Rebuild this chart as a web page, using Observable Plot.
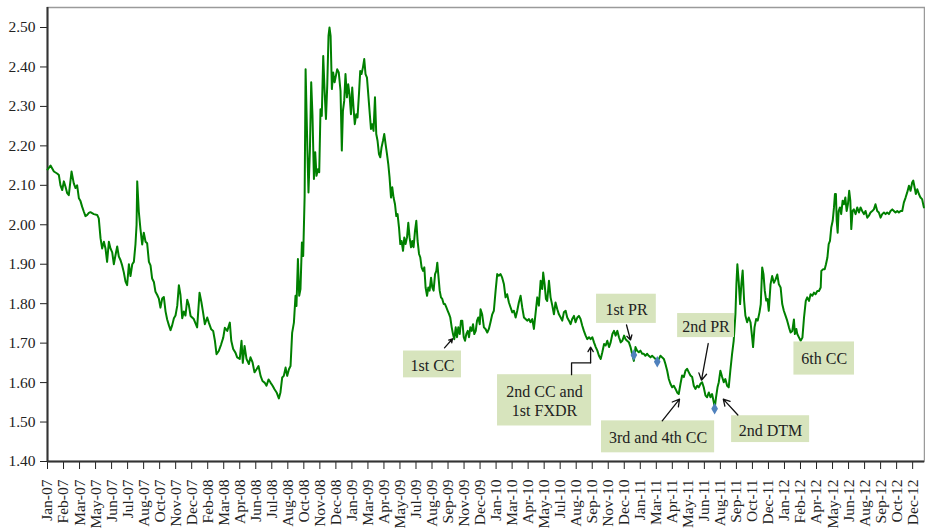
<!DOCTYPE html>
<html><head><meta charset="utf-8">
<script src="https://cdn.jsdelivr.net/npm/d3@7"></script>
<script src="https://cdn.jsdelivr.net/npm/@observablehq/plot@0.6"></script>
<style>body{margin:0;background:#fff}#chart svg{display:block}</style>
</head><body><div id="chart"></div>
<script>
// Category-axis tick labels (evenly spaced, one every ~28 trading days)
const tickLabels = ["Jan-07","Feb-07","Mar-07","May-07","Jun-07","Jul-07","Aug-07","Oct-07","Nov-07","Dec-07",
  "Feb-08","Mar-08","Apr-08","Jun-08","Jul-08","Aug-08","Oct-08","Nov-08","Dec-08",
  "Jan-09","Mar-09","Apr-09","May-09","Jul-09","Aug-09","Sep-09","Nov-09","Dec-09",
  "Jan-10","Mar-10","Apr-10","May-10","Jul-10","Aug-10","Sep-10","Nov-10","Dec-10",
  "Jan-11","Mar-11","Apr-11","May-11","Jun-11","Aug-11","Sep-11","Oct-11","Dec-11",
  "Jan-12","Feb-12","Apr-12","May-12","Jun-12","Aug-12","Sep-12","Oct-12","Dec-12"];
const yTickValues = [1.40,1.50,1.60,1.70,1.80,1.90,2.00,2.10,2.20,2.30,2.40,2.50];

// Observation position (in tick intervals from Jan-07) and value
const period = [
0.00,0.19,0.40,0.60,0.71,0.81,0.92,1.02,1.12,1.23,1.33,1.50,1.64,1.75,1.85,1.96,2.06,2.16,2.27,2.37,2.48,2.58,2.68,2.89,3.10,3.20,3.31,3.41,3.52,3.62,3.72,3.83,3.93,4.04,4.14,4.24,4.35,4.45,4.56,4.66,4.76,4.87,4.97,5.08,5.18,5.29,5.39,5.49,5.56,5.60,5.70,5.80,5.91,6.01,6.12,6.22,6.33,6.43,6.53,6.64,6.74,6.85,6.95,7.05,7.16,7.26,7.37,7.47,7.58,7.68,7.78,7.89,7.99,8.10,8.20,8.30,8.41,8.51,8.61,8.72,8.82,
8.93,9.13,9.34,9.49,9.61,9.71,9.82,9.97,10.07,10.22,10.34,10.45,10.55,10.69,10.84,10.97,11.07,11.22,11.38,11.47,11.59,11.73,11.84,12.00,12.11,12.19,12.30,12.42,12.57,12.67,12.80,12.92,13.05,13.17,13.30,13.42,13.55,13.67,13.80,13.92,14.05,14.17,14.30,14.44,14.54,14.65,14.75,14.86,14.96,15.07,15.17,15.27,15.38,15.48,15.54,15.63,15.71,15.79,15.88,15.96,16.05,16.11,16.17,16.23,16.29,16.38,16.46,16.54,16.63,16.71,16.79,16.88,16.96,17.04,17.12,17.21,17.29,17.38,17.46,17.54,17.60,17.67,17.75,17.83,17.92,
18.08,18.18,18.29,18.37,18.44,18.52,18.60,18.69,18.77,18.85,18.94,19.02,19.10,19.18,19.27,19.35,19.44,19.52,19.60,19.69,19.77,19.85,19.94,20.02,20.10,20.19,20.27,20.35,20.44,20.52,20.60,20.69,20.77,20.85,20.94,21.02,21.10,21.19,21.27,21.35,21.44,21.52,21.60,21.69,21.77,21.85,21.94,22.02,22.10,22.19,22.27,22.35,22.44,22.52,22.60,22.69,22.77,22.85,22.94,23.02,23.10,23.19,23.27,23.35,23.44,23.52,23.60,23.69,23.77,23.85,23.94,24.02,24.10,24.19,24.27,24.33,24.39,24.48,24.56,24.64,24.73,24.81,24.89,24.98,25.06,25.14,25.23,25.31,25.39,25.48,25.56,25.64,25.73,25.81,25.89,25.98,26.06,26.14,26.23,26.31,26.39,26.48,26.56,26.64,26.73,26.81,26.89,26.98,
27.03,27.13,27.24,27.34,27.45,27.55,27.65,27.76,27.86,27.97,28.07,28.17,28.28,28.38,28.49,28.59,28.69,28.80,28.90,29.01,29.11,29.22,29.32,29.42,29.53,29.63,29.74,29.84,29.94,30.05,30.15,30.26,30.36,30.47,30.57,30.67,30.78,30.88,30.94,31.03,31.11,31.19,31.30,31.40,31.51,31.61,31.71,31.82,31.92,32.03,32.13,32.23,32.34,32.44,32.55,32.65,32.75,32.86,32.96,33.07,33.17,33.27,33.38,33.48,33.59,33.69,33.80,33.90,34.01,34.11,34.22,34.32,34.42,34.53,34.63,34.74,34.84,34.94,35.05,35.15,35.26,35.36,35.46,35.57,35.67,35.78,35.88,35.99,
36.08,36.18,36.29,36.39,36.49,36.60,36.70,36.80,36.91,37.01,37.12,37.22,37.32,37.43,37.53,37.64,37.74,37.84,37.95,38.05,38.16,38.26,38.36,38.47,38.57,38.68,38.78,38.88,38.99,39.09,39.20,39.30,39.40,39.51,39.61,39.72,39.82,39.92,40.03,40.13,40.24,40.34,40.44,40.55,40.65,40.76,40.86,40.96,41.07,41.17,41.28,41.38,41.48,41.59,41.65,41.73,41.82,41.90,42.00,42.11,42.21,42.31,42.42,42.52,42.62,42.73,42.83,42.94,43.00,43.06,43.14,43.23,43.31,43.39,43.48,43.56,43.67,43.77,43.88,43.98,44.04,44.13,44.23,44.33,44.44,44.52,44.61,44.69,44.77,44.86,44.94,45.02,
45.13,45.23,45.34,45.44,45.55,45.65,45.76,45.86,45.96,46.07,46.17,46.28,46.38,46.49,46.59,46.65,46.74,46.80,46.91,47.01,47.12,47.22,47.33,47.42,47.53,47.63,47.74,47.84,47.94,48.05,48.15,48.26,48.30,48.40,48.51,48.59,48.68,48.76,48.84,48.92,49.01,49.09,49.15,49.21,49.26,49.32,49.38,49.46,49.54,49.63,49.71,49.80,49.88,49.96,50.04,50.11,50.17,50.25,50.33,50.44,50.54,50.65,50.75,50.85,50.96,51.06,51.17,51.27,51.37,51.48,51.58,51.68,51.79,51.89,52.00,52.10,52.21,52.31,52.41,52.52,52.62,52.73,52.83,52.93,53.04,53.14,53.25,53.35,53.45,53.56,53.66,53.77,53.87,53.97,54.04,54.12,54.20,54.29,54.39,54.49,54.59,54.70];
const rate = [
2.14,2.15,2.135,2.13,2.126,2.10,2.088,2.11,2.097,2.08,2.075,2.135,2.105,2.093,2.10,2.067,2.06,2.046,2.033,2.022,2.025,2.03,2.032,2.027,2.025,2.016,1.966,1.94,1.957,1.94,1.906,1.957,1.94,1.93,1.90,1.922,1.945,1.92,1.91,1.897,1.88,1.856,1.847,1.90,1.87,1.90,1.906,1.95,2.00,2.11,2.033,1.99,1.95,1.98,1.957,1.953,1.906,1.897,1.864,1.855,1.83,1.822,1.813,1.79,1.813,1.817,1.78,1.76,1.745,1.733,1.745,1.763,1.77,1.795,1.847,1.822,1.763,1.78,1.77,1.81,1.797,
1.769,1.761,1.74,1.828,1.803,1.778,1.748,1.765,1.752,1.735,1.731,1.706,1.672,1.68,1.697,1.714,1.739,1.731,1.752,1.706,1.685,1.676,1.664,1.66,1.706,1.65,1.693,1.66,1.647,1.664,1.651,1.626,1.634,1.642,1.617,1.604,1.60,1.592,1.608,1.60,1.592,1.583,1.575,1.56,1.575,1.613,1.617,1.638,1.617,1.634,1.642,1.726,1.752,1.82,1.794,1.913,1.82,1.837,1.955,1.921,2.073,2.394,2.284,2.175,2.082,2.192,2.361,2.276,2.116,2.184,2.124,2.141,2.133,2.293,2.276,2.428,2.344,2.268,2.352,2.479,2.50,2.479,2.344,2.386,2.361,
2.394,2.386,2.339,2.188,2.289,2.314,2.382,2.323,2.356,2.331,2.28,2.348,2.297,2.255,2.28,2.272,2.331,2.39,2.382,2.399,2.42,2.382,2.373,2.331,2.289,2.243,2.255,2.238,2.323,2.23,2.213,2.179,2.171,2.196,2.213,2.23,2.205,2.179,2.154,2.12,2.069,2.095,2.069,2.052,2.022,2.027,1.993,1.951,1.959,1.934,1.968,1.951,1.968,2.005,1.968,1.943,1.959,1.943,1.985,2.01,1.959,1.926,1.917,1.892,1.883,1.892,1.841,1.82,1.841,1.833,1.866,1.841,1.833,1.875,1.883,1.904,1.875,1.833,1.816,1.812,1.799,1.799,1.791,1.782,1.774,1.765,1.74,1.723,1.71,1.74,1.715,1.74,1.723,1.757,1.757,1.715,1.706,1.723,1.731,1.715,1.74,1.731,1.748,1.723,1.731,1.757,1.765,1.748,
1.786,1.773,1.74,1.736,1.727,1.736,1.753,1.773,1.782,1.833,1.875,1.871,1.875,1.866,1.849,1.816,1.824,1.803,1.791,1.778,1.782,1.765,1.782,1.803,1.82,1.791,1.765,1.761,1.757,1.761,1.753,1.761,1.736,1.778,1.816,1.795,1.858,1.837,1.879,1.849,1.812,1.807,1.858,1.816,1.795,1.773,1.803,1.786,1.773,1.765,1.757,1.778,1.782,1.765,1.757,1.748,1.761,1.769,1.753,1.765,1.769,1.761,1.744,1.731,1.719,1.71,1.715,1.71,1.715,1.702,1.69,1.681,1.668,1.66,1.677,1.698,1.694,1.706,1.69,1.702,1.723,1.731,1.719,1.731,1.715,1.702,1.706,1.719,
1.710,1.706,1.702,1.69,1.673,1.655,1.69,1.681,1.677,1.681,1.673,1.673,1.668,1.673,1.668,1.664,1.668,1.664,1.66,1.652,1.66,1.668,1.664,1.66,1.647,1.63,1.609,1.597,1.588,1.592,1.584,1.575,1.571,1.597,1.618,1.614,1.63,1.635,1.626,1.618,1.614,1.592,1.584,1.592,1.588,1.597,1.601,1.588,1.567,1.563,1.575,1.563,1.571,1.55,1.537,1.563,1.588,1.601,1.63,1.614,1.601,1.609,1.592,1.588,1.63,1.673,1.706,1.774,1.85,1.90,1.858,1.799,1.85,1.884,1.808,1.77,1.753,1.765,1.753,1.715,1.69,1.74,1.761,1.757,1.778,1.799,1.892,1.875,1.833,1.808,1.812,1.782,
1.849,1.87,1.853,1.861,1.874,1.849,1.841,1.799,1.782,1.769,1.757,1.74,1.727,1.731,1.76,1.723,1.736,1.723,1.714,1.706,1.714,1.765,1.807,1.816,1.807,1.824,1.82,1.828,1.824,1.832,1.832,1.841,1.883,1.887,1.887,1.9,1.917,1.951,1.959,1.993,2.01,2.044,2.078,2.078,2.01,1.98,2.035,2.044,2.027,2.061,2.052,2.069,2.035,2.052,2.086,2.061,1.989,2.035,2.039,2.027,2.044,2.031,2.044,2.035,2.027,2.035,2.018,2.023,2.031,2.035,2.039,2.052,2.035,2.031,2.018,2.027,2.031,2.027,2.031,2.027,2.035,2.039,2.035,2.031,2.035,2.031,2.035,2.035,2.056,2.069,2.082,2.099,2.086,2.107,2.112,2.095,2.078,2.09,2.078,2.069,2.065,2.044];

// Highlighted event points (blue diamonds)
const markerPeriod = [36.60, 38.06, 41.64];
const markerRate = [1.670, 1.653, 1.534];

// Annotation labels (text centre, box extent and arrow, in data coordinates)
const annotations = [
  {label: "1st CC", x: 24.03, y: 1.646, x1: 22.22, x2: 25.84, y1: 1.612, y2: 1.680, ax1: 24.78, ay1: 1.688, ax2: 25.28, ay2: 1.711},
  {label: "2nd CC and\n1st FXDR", x: 31.02, y: 1.555, x1: 28.09, x2: 33.96, y1: 1.490, y2: 1.620, ax1: 33.90, ay1: 1.650, ax2: 33.90, ay2: 1.690},
  {label: "1st PR", x: 36.14, y: 1.787, x1: 34.27, x2: 38.00, y1: 1.750, y2: 1.824, ax1: 36.14, ay1: 1.746, ax2: 36.39, ay2: 1.708},
  {label: "2nd PR", x: 41.10, y: 1.745, x1: 39.33, x2: 42.88, y1: 1.714, y2: 1.775, ax1: 41.24, ay1: 1.699, ax2: 40.82, ay2: 1.606},
  {label: "3rd and 4th CC", x: 38.11, y: 1.462, x1: 34.58, x2: 41.64, y1: 1.422, y2: 1.503, ax1: 38.37, ay1: 1.503, ax2: 39.45, ay2: 1.558},
  {label: "2nd DTM", x: 45.13, y: 1.481, x1: 42.70, x2: 47.57, y1: 1.448, y2: 1.516, ax1: 43.09, ay1: 1.518, ax2: 42.18, ay2: 1.558},
  {label: "6th CC", x: 48.48, y: 1.663, x1: 46.59, x2: 50.37, y1: 1.619, y2: 1.703}
];
// Elbow connector for "2nd CC and 1st FXDR"
const connector = [{x: 32.71, y: 1.620}, {x: 32.71, y: 1.650}, {x: 33.90, y: 1.650}];

const series = period.map((p, i) => ({p, r: rate[i]}));
const markers = markerPeriod.map((p, i) => ({p, r: markerRate[i]}));
const arrows = annotations.filter(d => d.ax1 != null);

const chart = Plot.plot({
  width: 925, height: 528,
  marginLeft: 47, marginRight: 1, marginTop: 7, marginBottom: 67,
  style: {fontFamily: "'Liberation Serif', 'DejaVu Serif', serif", fontSize: "14px", color: "#222", background: "#fff"},
  x: {domain: [0, 54.74]},
  y: {domain: [1.40, 2.5507]},
  marks: [
    Plot.frame({stroke: "#9a9a9a", strokeWidth: 1.5}),
    Plot.axisY({ticks: yTickValues, tickFormat: d => d.toFixed(2), tickSize: 7, tickPadding: 5, label: null, fontSize: 15.5}),
    Plot.axisX({ticks: tickLabels.map((_, i) => i), tickFormat: i => tickLabels[i], tickRotate: -90, tickSize: 8, tickPadding: 10, label: null, fontSize: 15.5}),
    Plot.ruleX([0], {stroke: "#333", strokeWidth: 2}),
    Plot.ruleY([1.40], {stroke: "#333", strokeWidth: 2}),
    Plot.line(series, {x: "p", y: "r", stroke: "#008000", strokeWidth: 2}),
    Plot.dot(markers, {x: "p", y: "r", symbol: "diamond", fill: "#4f81bd", r: 3.5}),
    Plot.rect(annotations, {x1: "x1", x2: "x2", y1: "y1", y2: "y2", fill: "#d7e4bd"}),
    Plot.text(annotations, {x: "x", y: "y", text: "label", fontSize: 16, fill: "#222", lineHeight: 1.2}),
    Plot.line(connector, {x: "x", y: "y", stroke: "#111", strokeWidth: 1.3}),
    Plot.arrow(arrows, {x1: "ax1", y1: "ay1", x2: "ax2", y2: "ay2", stroke: "#111", strokeWidth: 1.3, headLength: 9})
  ]
});
document.getElementById("chart").append(chart);
</script>
</body></html>
